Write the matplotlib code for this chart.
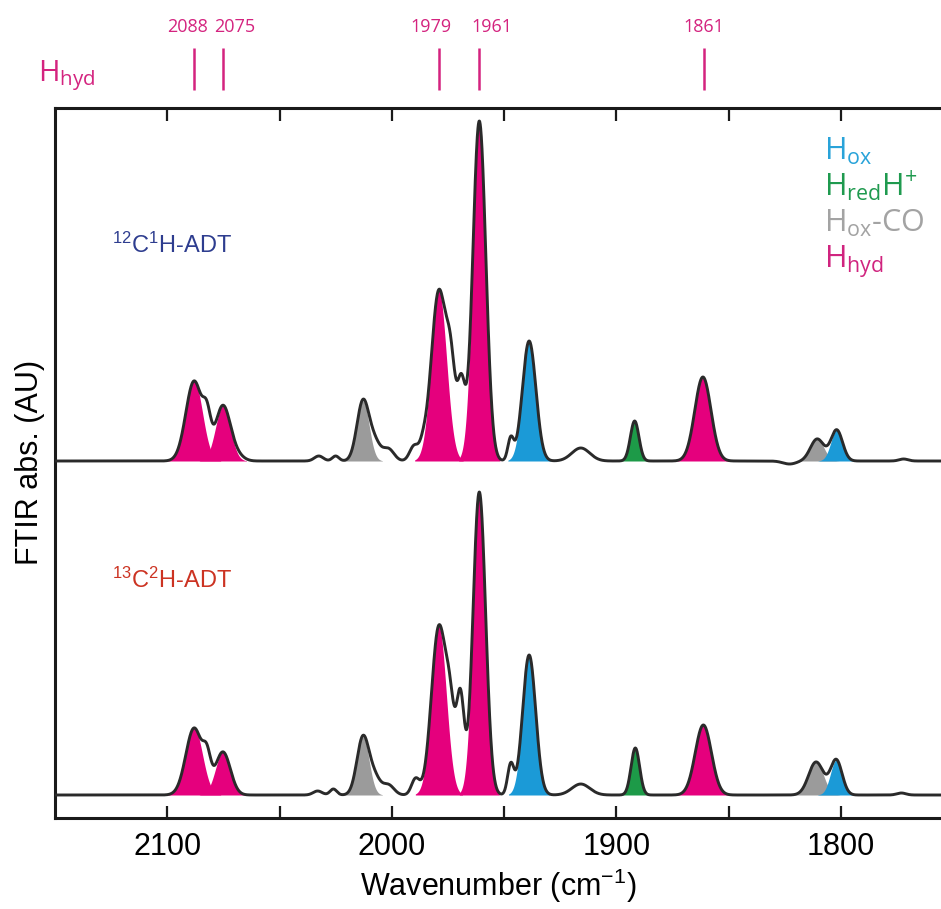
import numpy as np
import matplotlib
matplotlib.use("Agg")
import matplotlib.pyplot as plt
from matplotlib import font_manager
from matplotlib.transforms import blended_transform_factory

# ---------------- data ----------------
species_colors = {"ox": "#1b9ad7", "red": "#1d9a48", "oxco": "#9b9b9b", "hyd": "#e5007d"}

# 12C1H-ADT : band centre (cm-1), height (AU), width sigma (cm-1), species ("" = not filled)
top_centers = [2088.0, 2075.2, 2012.8, 1979.0, 1961.0, 1938.8, 1891.8, 1861.4, 1810.5, 1801.8,
               2082.3, 2069.0, 2007.5, 2001.5, 1990.0, 1986.0, 1973.5, 1969.0, 1947.0, 1915.8,
               2032.5, 2025.0, 1772.0, 1822.8]
top_heights = [0.80, 0.55, 0.60, 1.70, 3.40, 1.20, 0.40, 0.84, 0.22, 0.31,
               0.30, 0.05, 0.17, 0.12, 0.15, 0.10, 0.72, 0.72, 0.22, 0.13,
               0.05, 0.05, 0.02, -0.03]
top_widths = [3.7, 3.3, 2.7, 3.4, 2.9, 3.0, 1.9, 3.6, 3.0, 2.6,
              1.7, 3.0, 2.5, 2.5, 2.0, 1.5, 2.0, 1.7, 1.3, 4.0,
              2.0, 1.5, 2.0, 3.0]
top_species = ["hyd", "hyd", "oxco", "hyd", "hyd", "ox", "red", "hyd", "oxco", "ox",
               "", "", "", "", "", "", "", "", "", "",
               "", "", "", ""]

# 13C2H-ADT
bot_centers = [2088.0, 2075.2, 2012.8, 1979.0, 1961.0, 1938.8, 1891.5, 1861.2, 1811.0, 1802.0,
               2082.3, 2007.5, 2001.5, 1989.4, 1973.8, 1969.4, 1947.0, 1915.8,
               2026.0, 2033.0, 1773.0]
bot_heights = [0.67, 0.43, 0.58, 1.68, 3.03, 1.40, 0.47, 0.70, 0.33, 0.35,
               0.26, 0.16, 0.10, 0.16, 0.62, 0.95, 0.30, 0.11,
               0.06, 0.04, 0.02]
bot_widths = [3.7, 3.3, 2.7, 3.3, 2.8, 2.9, 1.9, 3.6, 3.3, 2.6,
              1.7, 2.5, 2.5, 1.8, 2.0, 1.7, 1.4, 4.0,
              1.5, 2.0, 2.0]
bot_species = ["hyd", "hyd", "oxco", "hyd", "hyd", "ox", "red", "hyd", "oxco", "ox",
               "", "", "", "", "", "", "", "",
               "", "", ""]

hyd_marks = [2088, 2075, 1979, 1961, 1861]
x_ticks = [2100, 2050, 2000, 1950, 1900, 1850, 1800]
x_ticklabels = ["2100", "", "2000", "", "1900", "", "1800"]

# ---------------- fonts ----------------
installed = {f.name for f in font_manager.fontManager.ttflist}
narrow = "Liberation Sans Narrow" if "Liberation Sans Narrow" in installed else "Open Sans"

# ---------------- figure ----------------
W, H = 941, 909
fig = plt.figure(figsize=(W / 100, H / 100), dpi=100)
L, R, B, T = 55, 953, 818, 108
ax = fig.add_axes([L / W, 1 - B / H, (R - L) / W, (B - T) / H])
ax.set_xlim(2150, 1750)
ax.set_ylim(0, 7.10)

wn = np.linspace(2150, 1750, 4001)


def band(c, h, s):
    return h * np.exp(-0.5 * ((wn - c) / s) ** 2)


def draw_spectrum(offset, centers, heights, widths, spc):
    total = np.zeros_like(wn)
    for c, h, s in zip(centers, heights, widths):
        total += band(c, h, s)
    order = ["oxco", "hyd", "red", "ox"]
    for key in order:
        for c, h, s, sp in zip(centers, heights, widths, spc):
            if sp != key:
                continue
            b = band(c, h, s)
            m = np.abs(wn - c) < 3.2 * s
            ax.fill_between(wn[m], offset, offset + b[m], color=species_colors[sp],
                            lw=0, zorder=2)
    ax.plot(wn, offset + total, color="#2a2a2a", lw=2.1, zorder=3)


draw_spectrum(3.57, top_centers, top_heights, top_widths, top_species)
draw_spectrum(0.23, bot_centers, bot_heights, bot_widths, bot_species)

# axes styling
for sp in ["left", "bottom", "top", "right"]:
    ax.spines[sp].set_linewidth(2.2)
    ax.spines[sp].set_color("#1a1a1a")
ax.set_yticks([])
ax.set_xticks(x_ticks)
ax.set_xticklabels(x_ticklabels, fontfamily="Liberation Sans", fontsize=22)
ax.tick_params(axis="x", direction="in", length=9, width=1.6, top=True, pad=10,
               color="#1a1a1a")

ax.set_xlabel(r"Wavenumber (cm$\mathregular{^{-1}}$)", fontfamily="Liberation Sans",
              fontsize=22)
ax.xaxis.set_label_coords((498 - L) / (R - L), -(886 - B) / (B - T))
ax.xaxis.label.set_va("center")
ax.set_ylabel("FTIR abs. (AU)", fontfamily="Liberation Sans", fontsize=22)
ax.yaxis.set_label_coords((30 - L) / (R - L), (B - 462) / (B - T))
ax.yaxis.label.set_va("center")

# H_hyd markers above the frame
mag = "#d4237f"
tr = blended_transform_factory(ax.transData, fig.transFigure)
ax.vlines(hyd_marks, 1 - 90 / H, 1 - 48 / H, transform=tr, color=mag, lw=1.8, clip_on=False)
label_offsets = [-5, 8, -6, 9, 0]
for v, dx in zip(hyd_marks, label_offsets):
    ax.annotate(str(v), xy=(v, 1 - 27 / H), xycoords=tr, xytext=(dx, 0),
                textcoords="offset points", ha="center", va="center",
                color=mag, fontsize=13, fontfamily=narrow, annotation_clip=False)
fig.text(38 / W, 1 - 81 / H, r"H$\mathregular{_{hyd}}$", color=mag, fontsize=21,
         fontfamily="Open Sans", va="baseline", ha="left")

# species legend
legend_items = [(r"H$\mathregular{_{ox}}$", "#29a3d9", 160),
                (r"H$\mathregular{_{red}}$H$\mathregular{^{+}}$", "#1f9a4f", 196),
                (r"H$\mathregular{_{ox}}$-CO", "#a3a3a3", 232),
                (r"H$\mathregular{_{hyd}}$", "#d0247f", 268)]
for txt, col, yb in legend_items:
    fig.text(824 / W, 1 - yb / H, txt, color=col, fontsize=22, fontfamily="Open Sans",
             va="baseline", ha="left")

# sample labels
fig.text(112 / W, 1 - 253 / H, r"$\mathregular{^{12}}$C$\mathregular{^{1}}$H-ADT",
         color="#2e3d8f", fontsize=17, fontfamily="Liberation Sans", va="baseline")
fig.text(112 / W, 1 - 588 / H, r"$\mathregular{^{13}}$C$\mathregular{^{2}}$H-ADT",
         color="#cc3322", fontsize=17, fontfamily="Liberation Sans", va="baseline")

fig.savefig("out.png", dpi=100)
